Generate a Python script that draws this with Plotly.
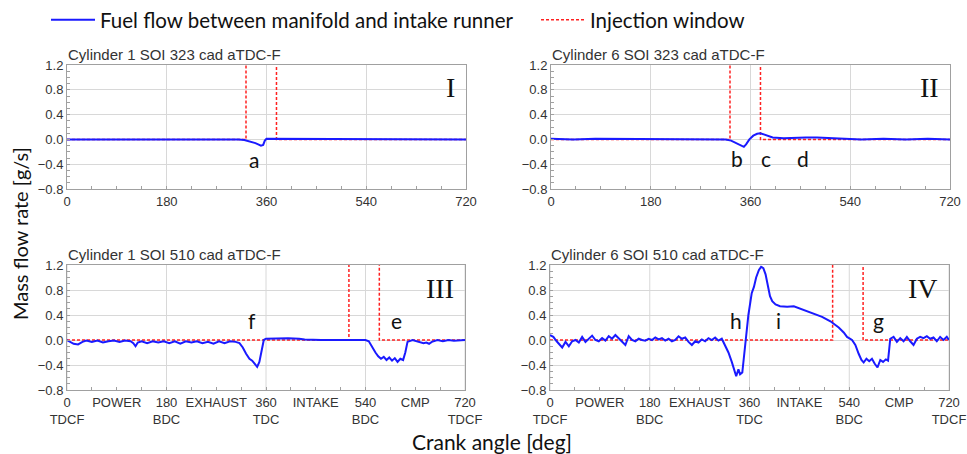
import plotly.graph_objects as go

# ---------------- data ----------------
p1_x = [0, 20, 40, 60, 80, 100, 120, 140, 160, 180, 200, 220, 240, 260, 280, 300, 310, 320, 330, 340, 345, 350, 354, 357, 360, 380, 400, 440, 480, 520, 540, 560, 600, 640, 680, 720]
p1_y = [0.0, 0.0, 0.01, 0.0, 0.0, 0.01, 0.0, 0.0, 0.01, 0.01, 0.0, 0.01, 0.0, 0.01, 0.0, 0.01, 0.0, -0.01, -0.03, -0.06, -0.08, -0.1, -0.09, -0.02, 0.01, 0.01, 0.01, 0.01, 0.01, 0.01, 0.0, 0.0, 0.0, 0.01, 0.0, 0.0]

p2_x = [0, 40, 80, 120, 160, 200, 240, 280, 300, 315, 325, 335, 342, 348, 352, 358, 365, 372, 378, 385, 392, 400, 420, 440, 460, 480, 500, 520, 560, 600, 640, 680, 720]
p2_y = [0.01, 0.0, 0.01, 0.01, 0.0, 0.01, 0.0, 0.01, 0.0, 0.0, -0.02, -0.06, -0.1, -0.12, -0.08, 0.0, 0.06, 0.09, 0.1, 0.08, 0.05, 0.03, 0.02, 0.03, 0.03, 0.03, 0.02, 0.01, 0.0, 0.01, 0.0, 0.01, 0.0]

p3_x = [0, 5, 12, 20, 28, 35, 45, 55, 65, 75, 85, 95, 105, 115, 120, 124, 128, 135, 145, 155, 165, 175, 185, 195, 205, 215, 225, 235, 245, 255, 265, 275, 285, 295, 305, 312, 318, 324, 330, 335, 340, 344, 348, 352, 356, 360, 380, 400, 420, 430, 460, 500, 540, 546, 552, 558, 563, 568, 573, 578, 583, 588, 593, 598, 603, 608, 612, 616, 625, 635, 645, 650, 655, 660, 665, 670, 680, 690, 700, 710, 720]
p3_y = [0.0, -0.02, -0.06, -0.07, -0.03, -0.01, -0.03, -0.01, -0.04, -0.02, -0.01, -0.03, -0.01, -0.02, -0.05, -0.1, -0.04, -0.02, -0.05, -0.02, -0.04, -0.02, -0.05, -0.02, -0.06, -0.02, -0.04, -0.02, -0.05, -0.03, -0.06, -0.02, -0.05, -0.02, -0.03, -0.05, -0.12, -0.22, -0.3, -0.33, -0.38, -0.43, -0.35, -0.18, 0.0, 0.02, 0.03, 0.03, 0.02, 0.01, 0.0, 0.0, 0.0, -0.02, -0.12, -0.2, -0.26, -0.3, -0.27, -0.32, -0.28, -0.33, -0.29, -0.35, -0.3, -0.32, -0.2, -0.03, 0.0, -0.02, -0.05, -0.04, -0.06, -0.03, -0.01, 0.0, -0.02, 0.0, -0.01, 0.0, 0.0]

p4_x = [0, 6, 12, 18, 22, 28, 34, 40, 46, 52, 58, 64, 70, 76, 82, 88, 94, 100, 106, 112, 118, 124, 130, 136, 142, 148, 154, 160, 166, 172, 178, 184, 190, 196, 202, 208, 214, 220, 226, 232, 238, 244, 250, 256, 262, 268, 274, 280, 286, 292, 298, 304, 310, 316, 322, 328, 333, 336, 340, 343, 347, 351, 354, 358, 364, 368, 372, 377, 381, 385, 389, 393, 397, 401, 407, 415, 428, 440, 452, 470, 491, 506, 521, 530, 536, 545, 551, 557, 562, 566, 571, 576, 581, 586, 591, 596, 601, 606, 610, 614, 620, 626, 632, 638, 644, 650, 656, 662, 668, 674, 680, 686, 692, 698, 704, 710, 716, 720]
p4_y = [0.08, 0.05, -0.02, -0.08, -0.12, -0.03, -0.1, -0.02, 0.0, -0.04, 0.05, -0.03, 0.02, 0.07, 0.0, -0.02, 0.03, -0.01, 0.06, 0.02, 0.08, 0.03, -0.03, -0.08, 0.06, 0.0, -0.02, 0.02, 0.0, -0.01, 0.02, 0.0, 0.04, 0.01, 0.03, -0.01, 0.02, -0.02, 0.0, 0.06, 0.02, 0.04, -0.03, -0.08, -0.02, -0.04, 0.01, -0.02, 0.03, 0.0, 0.04, -0.01, 0.02, -0.08, -0.2, -0.35, -0.52, -0.58, -0.47, -0.55, -0.52, -0.2, 0.05, 0.4, 0.75, 0.85, 1.0, 1.12, 1.17, 1.15, 1.05, 0.88, 0.7, 0.62, 0.57, 0.54, 0.53, 0.54, 0.5, 0.43, 0.37, 0.3, 0.2, 0.12, 0.05, 0.0, -0.08, -0.22, -0.32, -0.36, -0.3, -0.34, -0.3, -0.38, -0.44, -0.32, -0.35, -0.31, -0.33, 0.02, 0.05, -0.03, 0.03, -0.02, 0.05, -0.02, -0.08, 0.02, 0.05, 0.03, 0.06, 0.02, 0.04, -0.02, 0.05, 0.0, 0.05, 0.0]

# injection windows (start, end) in crank angle
inj_323 = [323, 378]
inj_510 = [510, 565]
inj_low, inj_high = 0.0, 2.0

panel_titles = ["Cylinder 1 SOI 323 cad aTDC-F", "Cylinder 6 SOI 323 cad aTDC-F",
                "Cylinder 1 SOI 510 cad aTDC-F", "Cylinder 6 SOI 510 cad aTDC-F"]
panel_numerals = ["I", "II", "III", "IV"]

top_tickvals = [0, 180, 360, 540, 720]
top_ticktext = ["0", "180", "360", "540", "720"]
bot_tickvals = [0, 90, 180, 270, 360, 450, 540, 630, 720]
bot_ticktext = ["0<br>TDCF", "POWER", "180<br>BDC", "EXHAUST", "360<br>TDC", "INTAKE", "540<br>BDC", "CMP", "720<br>TDCF"]
grid_x = [0, 180, 360, 540, 720]

y_tickvals = [-0.8, -0.4, 0.0, 0.4, 0.8, 1.2]

# letter labels: (panel index, text, x, y)
letters = [(0, "a", 338, -0.33),
           (1, "b", 336, -0.30), (1, "c", 388, -0.30), (1, "d", 454, -0.30),
           (2, "f", 334, 0.32), (2, "e", 596, 0.32),
           (3, "h", 335, 0.32), (3, "i", 413, 0.32), (3, "g", 592, 0.32)]

# ---------------- figure ----------------
W, H = 967, 454
def px_x(p): return p / W
def px_y(p): return 1 - p / H

domains = [
    ([px_x(67), px_x(466)], [px_y(189), px_y(65)]),
    ([px_x(551), px_x(950)], [px_y(189), px_y(65)]),
    ([px_x(67), px_x(465)], [px_y(390), px_y(265)]),
    ([px_x(550), px_x(949)], [px_y(390), px_y(265)]),
]

series = [(p1_x, p1_y, inj_323), (p2_x, p2_y, inj_323), (p3_x, p3_y, inj_510), (p4_x, p4_y, inj_510)]

BLUE = "#1a1aff"
RED = "#ff2020"
TICKFONT = dict(family="Liberation Sans, Arial", size=13, color="#333333")
BIGFONT = "Lato, Noto Sans"
AXC = "#a0a0a0"

fig = go.Figure()
layout = dict(width=W, height=H, margin=dict(l=0, r=0, t=0, b=0, autoexpand=False),
              plot_bgcolor="white", paper_bgcolor="white")
annotations = []
shapes = []

for i, (xs, ys, inj) in enumerate(series):
    n = "" if i == 0 else str(i + 1)
    xa, ya = "x" + n, "y" + n
    ix = [0, inj[0], inj[0], inj[1], inj[1], 720]
    iy = [inj_low, inj_low, inj_high, inj_high, inj_low, inj_low]
    fig.add_trace(go.Scatter(x=ix, y=iy, mode="lines", name="Injection window",
                             line=dict(color=RED, width=1.5, dash="3px,2px"),
                             xaxis=xa, yaxis=ya, showlegend=(i == 0), legend="legend2"))
    fig.add_trace(go.Scatter(x=xs, y=ys, mode="lines", name="Fuel flow between manifold and intake runner",
                             line=dict(color=BLUE, width=2),
                             xaxis=xa, yaxis=ya, showlegend=(i == 0), legend="legend"))
    bottom = i >= 2
    xaxis = dict(domain=domains[i][0], anchor=ya, range=[0, 720],
                 tickvals=bot_tickvals if bottom else top_tickvals,
                 ticktext=bot_ticktext if bottom else top_ticktext,
                 showgrid=not bottom, gridcolor="#d8d8d8", gridwidth=1,
                 showline=True, linecolor=AXC, linewidth=1, mirror=True,
                 ticks="inside", ticklen=3, tickcolor=AXC,
                 minor=dict(dtick=45, tick0=0, ticks="inside", ticklen=3, tickcolor=AXC),
                 tickfont=TICKFONT, zeroline=False, fixedrange=True, automargin=False)
    yaxis = dict(domain=domains[i][1], anchor=xa, range=[-0.8, 1.2],
                 tickvals=y_tickvals, tickformat=".1f",
                 showgrid=True, gridcolor="#d8d8d8", gridwidth=1,
                 showline=True, linecolor=AXC, linewidth=1, mirror=True,
                 ticks="inside", ticklen=3, tickcolor=AXC,
                 minor=dict(dtick=0.1, ticks="inside", ticklen=3, tickcolor=AXC),
                 tickfont=TICKFONT, zeroline=False, fixedrange=True, automargin=False)
    layout["xaxis" + n] = xaxis
    layout["yaxis" + n] = yaxis
    if bottom:
        for gx in grid_x:
            shapes.append(dict(type="line", xref=xa, yref=ya + " domain", x0=gx, x1=gx, y0=0, y1=1,
                               line=dict(color="#d8d8d8", width=1), layer="below"))
    # panel title
    annotations.append(dict(text=panel_titles[i], xref=xa + " domain", yref=ya + " domain",
                            x=-0.002, y=1.0, xanchor="left", yanchor="bottom", showarrow=False,
                            font=dict(family="Liberation Sans, Arial", size=15, color="#333333")))
    # roman numeral
    annotations.append(dict(text=panel_numerals[i], xref=xa, yref=ya, x=703, y=0.83,
                            xanchor="right", yanchor="middle", showarrow=False,
                            font=dict(family="Liberation Serif, Times New Roman", size=28, color="#111111")))

for (pi, t, lx, ly) in letters:
    n = "" if pi == 0 else str(pi + 1)
    annotations.append(dict(text=t, xref="x" + n, yref="y" + n, x=lx, y=ly,
                            xanchor="center", yanchor="middle", showarrow=False,
                            font=dict(family=BIGFONT, size=21, color="#111111")))

annotations.append(dict(text="Mass flow rate [g/s]", xref="paper", yref="paper",
                        x=px_x(20), y=px_y(234), textangle=-90, xanchor="center", yanchor="middle",
                        showarrow=False, font=dict(family=BIGFONT, size=20, color="#111111")))
annotations.append(dict(text="Crank angle [deg]", xref="paper", yref="paper",
                        x=px_x(492), y=px_y(441), xanchor="center", yanchor="middle",
                        showarrow=False, font=dict(family=BIGFONT, size=21, color="#111111")))

layout["annotations"] = annotations
layout["shapes"] = shapes
legend_font = dict(family=BIGFONT, size=20.5, color="#111111")
layout["legend"] = dict(orientation="h", x=px_x(46), y=px_y(20), xanchor="left", yanchor="middle",
                        itemwidth=44, font=legend_font, bgcolor="rgba(0,0,0,0)")
layout["legend2"] = dict(orientation="h", x=px_x(536), y=px_y(20), xanchor="left", yanchor="middle",
                         itemwidth=44, font=legend_font, bgcolor="rgba(0,0,0,0)")
fig.update_layout(**layout)
fig.write_html("out.html", config={"displayModeBar": False},
               post_script="document.body.style.margin='0';document.body.style.overflow='hidden';")
